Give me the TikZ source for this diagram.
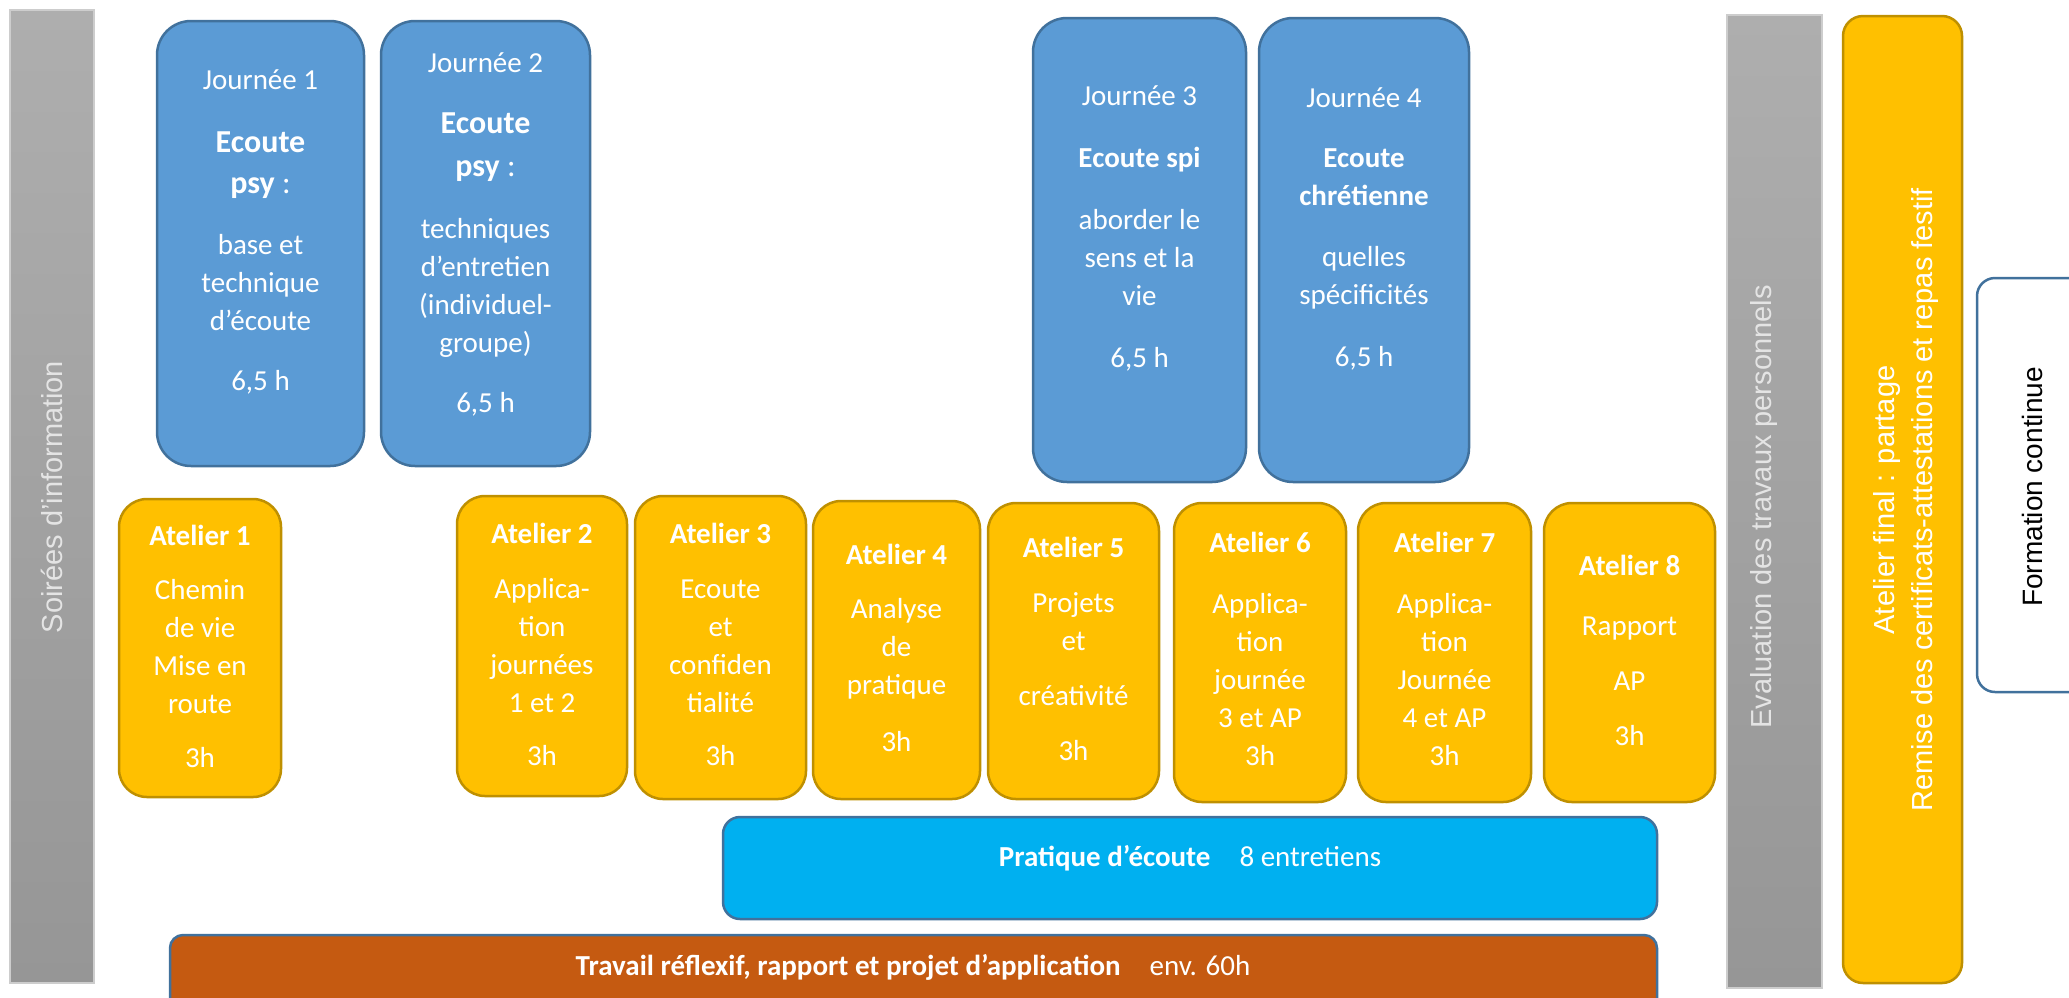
\documentclass[tikz,border=0pt]{standalone}
\usepackage{fontspec}
\setmainfont{Carlito}
\newfontfamily\arialfont{Liberation Sans}

\definecolor{jourblue}{RGB}{91,155,213}
\definecolor{jourline}{RGB}{65,113,156}
\definecolor{ateliergold}{RGB}{255,192,0}
\definecolor{atelierline}{RGB}{191,144,0}
\definecolor{pratiquecyan}{RGB}{0,176,240}
\definecolor{travailrust}{RGB}{197,90,17}
\definecolor{bartop}{RGB}{174,174,174}
\definecolor{barbottom}{RGB}{150,150,150}
\definecolor{barline}{RGB}{205,205,205}
\definecolor{bartext}{RGB}{228,228,228}

\tikzset{
  jourbox/.style={draw=jourline, fill=jourblue, line width=2.5pt, rounded corners=34pt},
  atelierbox/.style={draw=atelierline, fill=ateliergold, line width=2.5pt, rounded corners=28pt},
  bandbox/.style={draw=jourline, line width=2.5pt, rounded corners=17pt},
  greybar/.style={draw=barline, line width=1.2pt, top color=bartop, bottom color=barbottom},
  boxtxt/.style={anchor=north, inner sep=0pt, align=center, text=white, font=\fontsize{29}{38}\selectfont},
  bandtxt/.style={anchor=base, inner sep=0pt, text=white, font=\fontsize{29}{36}\selectfont},
  bartxt/.style={rotate=90, inner sep=0pt, align=center, font=\arialfont\fontsize{29}{38}\selectfont}
}
\newcommand{\grostitre}[1]{{\fontsize{32}{42}\selectfont\bfseries #1}}

\begin{document}
\begin{tikzpicture}[x=1pt,y=1pt,yscale=-1,xscale=1]
\useasboundingbox (0,0) rectangle (2069,997);

% Soirees bar
\draw[greybar] (10,10) rectangle (94,983);
\node[bartxt, text=bartext] (soirees) at (52,497) {Soirées d’information};

% Journee 1
\draw[jourbox] (157,21) rectangle (364,466);
\node[boxtxt] (j1) at (260.5,69) {Journée 1\\[25pt]\grostitre{Ecoute}\\[3pt]{\fontsize{32}{42}\selectfont\textbf{psy} :}\\[23pt]base et\\technique\\d’écoute\\[22pt]6,5 h};
% Journee 2
\draw[jourbox] (381,21) rectangle (590,466);
\node[boxtxt] (j2) at (485.5,52) {Journée 2\\[23pt]\grostitre{Ecoute}\\[5pt]{\fontsize{32}{42}\selectfont\textbf{psy} :}\\[24pt]techniques\\d’entretien\\(individuel-\\groupe)\\[22pt]6,5 h};
% Journee 3
\draw[jourbox] (1033,18) rectangle (1246,482);
\node[boxtxt] (j3) at (1139.5,85) {Journée 3\\[24pt]\textbf{Ecoute spi}\\[24pt]aborder le\\sens et la\\vie\\[24pt]6,5 h};
% Journee 4
\draw[jourbox] (1259,18) rectangle (1469,482);
\node[boxtxt] (j4) at (1364,87) {Journée 4\\[22pt]\textbf{Ecoute}\\\textbf{chrétienne}\\[23pt]quelles\\spécificités\\[24pt]6,5 h};

% Ateliers
\draw[atelierbox] (119,499) rectangle (281,797);
\node[boxtxt] (at1) at (200,525) {\textbf{Atelier 1}\\[16pt]Chemin\\de vie\\Mise en\\route\\[16pt]3h};
\draw[atelierbox] (457,496) rectangle (627,796);
\node[boxtxt] (at2) at (542,523) {\textbf{Atelier 2}\\[17pt]Applica-\\tion\\journées\\1 et 2\\[15pt]3h};
\draw[atelierbox] (635,496) rectangle (806,799);
\node[boxtxt] (at3) at (720.5,523) {\textbf{Atelier 3}\\[17pt]Ecoute\\et\\confiden\\tialité\\[15pt]3h};
\draw[atelierbox] (813,501) rectangle (980,799);
\node[boxtxt] (at4) at (896.5,544) {\textbf{Atelier 4}\\[16pt]Analyse\\de\\pratique\\[19pt]3h};
\draw[atelierbox] (988,503) rectangle (1159,799);
\node[boxtxt] (at5) at (1073.5,537) {\textbf{Atelier 5}\\[17pt]Projets\\et\\[17pt]créativité\\[17pt]3h};
\draw[atelierbox] (1174,503) rectangle (1346,802);
\node[boxtxt] (at6) at (1260,532) {\textbf{Atelier 6}\\[23pt]Applica-\\tion\\journée\\3 et AP\\3h};
\draw[atelierbox] (1358,503) rectangle (1531,802);
\node[boxtxt] (at7) at (1444.5,532) {\textbf{Atelier 7}\\[23pt]Applica-\\tion\\Journée\\4 et AP\\3h};
\draw[atelierbox] (1544,503) rectangle (1715,802);
\node[boxtxt] (at8) at (1629.5,555) {\textbf{Atelier 8}\\[22pt]Rapport\\[17pt]AP\\[17pt]3h};

% Pratique d'ecoute band
\draw[bandbox, fill=pratiquecyan] (723,817) rectangle (1657,919);
\node[bandtxt] (pratique) at (1190,866) {\textbf{Pratique d’écoute}\quad 8 entretiens};
% Travail band
\draw[bandbox, fill=travailrust, rounded corners=13pt] (170,935) rectangle (1657,1012);
\node[bandtxt] (travail) at (913,975) {\textbf{Travail réflexif, rapport et projet d’application}\quad env. 60h};

% Evaluation bar
\draw[greybar] (1727,15) rectangle (1822,988);
\node[bartxt, text=bartext] (evaluation) at (1764,507) {Evaluation des travaux personnels};

% Atelier final
\draw[atelierbox, rounded corners=20pt] (1843,16) rectangle (1962,983);
\node[bartxt, text=white] (final) at (1906,500) {Atelier final : partage\\Remise des certificats-attestations et repas festif};

% Formation continue
\draw[bandbox, fill=white, rounded corners=18pt] (1977,278) rectangle (2092,692);
\node[bartxt, font=\arialfont\fontsize{28}{34}\selectfont] (formation) at (2032,487) {Formation continue};

\end{tikzpicture}
\end{document}
